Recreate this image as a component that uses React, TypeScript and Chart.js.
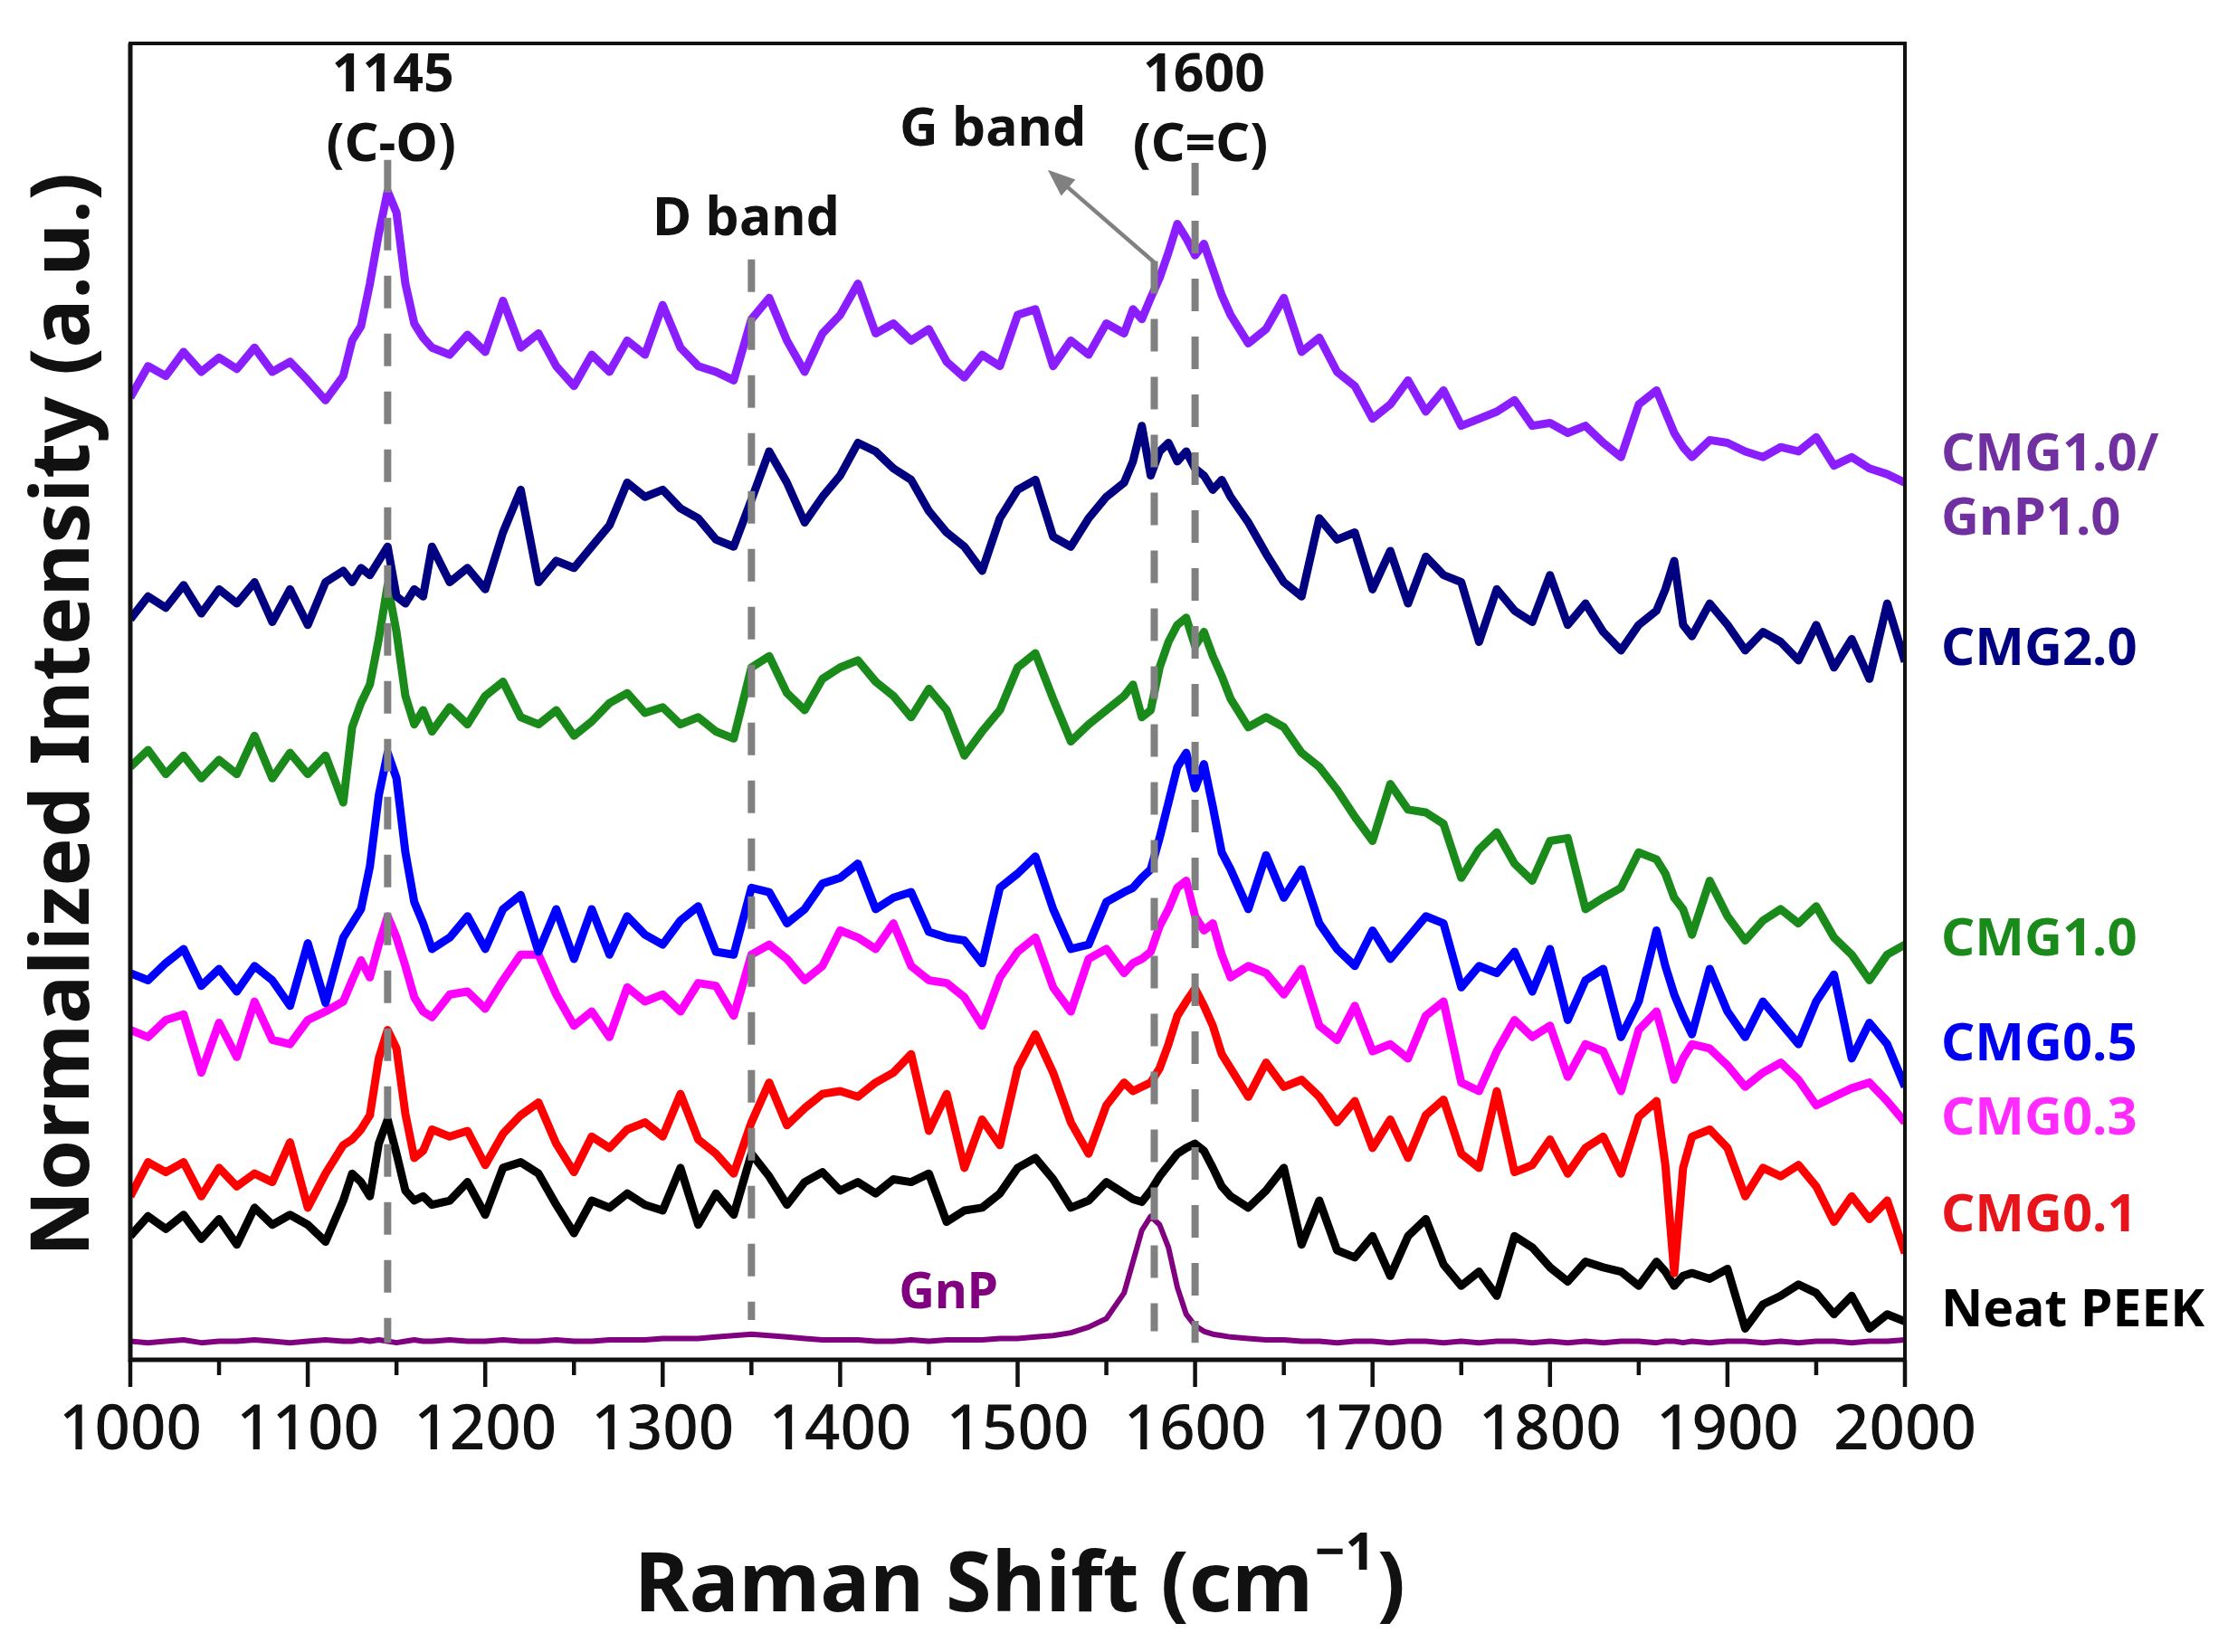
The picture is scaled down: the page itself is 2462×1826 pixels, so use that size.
import React, { useEffect, useRef } from 'react';
import { Chart, registerables } from 'chart.js';

Chart.register(...registerables);

// Raman shift (cm^-1) sample positions shared by every spectrum
const wavenumbers = [
  1000, 1010, 1020, 1030, 1040, 1050, 1060, 1070, 1080, 1090,
  1100, 1110, 1120, 1125, 1130, 1135, 1140, 1145, 1150, 1155,
  1160, 1165, 1170, 1180, 1190, 1200, 1210, 1220, 1230, 1240,
  1250, 1260, 1270, 1280, 1290, 1300, 1310, 1320, 1330, 1340,
  1350, 1360, 1370, 1380, 1390, 1400, 1410, 1420, 1430, 1440,
  1450, 1460, 1470, 1480, 1490, 1500, 1510, 1520, 1530, 1540,
  1550, 1560, 1565, 1570, 1575, 1580, 1585, 1590, 1595, 1600,
  1605, 1610, 1615, 1620, 1630, 1640, 1650, 1660, 1670, 1680,
  1690, 1700, 1710, 1720, 1730, 1740, 1750, 1760, 1770, 1780,
  1790, 1800, 1810, 1820, 1830, 1840, 1850, 1860, 1865, 1870,
  1875, 1880, 1890, 1900, 1910, 1920, 1930, 1940, 1950, 1960,
  1970, 1980, 1990, 2000,
];

// Normalized intensities (a.u., stacked with offsets as in the figure)
const cmg10Gnp10 = [
  672, 694, 687, 704, 690, 700, 692, 707, 690, 697,
  684, 670, 687, 712, 722, 752, 787, 817, 802, 752,
  724, 714, 707, 702, 716, 704, 740, 707, 717, 694,
  680, 702, 690, 712, 702, 737, 707, 694, 690, 684,
  727, 742, 712, 690, 717, 730, 752, 717, 724, 712,
  720, 697, 686, 702, 694, 730, 734, 694, 712, 702,
  724, 717, 734, 727, 742, 756, 774, 794, 784, 772,
  780, 762, 744, 730, 710, 720, 742, 704, 714, 690,
  680, 657, 667, 684, 662, 677, 652, 657, 662, 670,
  652, 654, 647, 652, 640, 630, 667, 677, 662, 647,
  637, 630, 642, 640, 634, 630, 637, 634, 644, 624,
  630, 622, 618, 612,
];

const cmg20 = [
  516, 532, 524, 540, 520, 537, 527, 542, 514, 537,
  512, 542, 550, 542, 552, 547, 557, 567, 532, 527,
  537, 532, 567, 542, 552, 537, 577, 607, 542, 557,
  552, 567, 582, 612, 602, 607, 594, 587, 572, 567,
  600, 634, 612, 584, 602, 617, 640, 634, 622, 614,
  592, 577, 567, 550, 587, 607, 614, 574, 567, 587,
  602, 612, 627, 652, 617, 634, 640, 627, 634, 622,
  617, 607, 614, 602, 584, 562, 542, 532, 587, 572,
  577, 537, 564, 527, 560, 547, 542, 500, 537, 522,
  514, 547, 512, 527, 507, 494, 512, 522, 537, 557,
  512, 504, 527, 512, 494, 507, 500, 487, 512, 482,
  502, 474, 527, 486,
];

const cmg10 = [
  412, 424, 407, 420, 404, 417, 407, 434, 404, 422,
  407, 420, 387, 440, 457, 470, 502, 540, 507, 462,
  442, 452, 437, 454, 442, 462, 472, 447, 442, 452,
  434, 444, 457, 464, 450, 454, 442, 447, 437, 432,
  482, 490, 464, 452, 474, 482, 487, 472, 462, 447,
  467, 452, 420, 437, 452, 482, 492, 460, 430, 442,
  452, 462, 470, 447, 452, 482, 500, 512, 517, 497,
  507, 490, 476, 460, 440, 447, 440, 422, 412, 396,
  377, 360, 400, 382, 380, 372, 334, 354, 366, 344,
  332, 360, 362, 312, 320, 327, 352, 347, 337, 320,
  312, 294, 332, 307, 290, 304, 312, 302, 314, 292,
  280, 262, 280, 287,
];

const cmg05 = [
  267, 262, 274, 284, 258, 270, 254, 272, 262, 244,
  288, 246, 292, 302, 312, 342, 392, 422, 404, 352,
  317, 302, 284, 292, 307, 284, 312, 322, 282, 312,
  277, 312, 280, 307, 294, 287, 304, 314, 282, 280,
  327, 324, 302, 312, 330, 334, 344, 312, 320, 324,
  296, 292, 290, 274, 327, 337, 349, 312, 284, 287,
  317, 324, 327, 334, 340, 362, 387, 412, 422, 397,
  414, 384, 352, 340, 312, 350, 320, 340, 302, 284,
  272, 297, 277, 292, 307, 302, 257, 272, 267, 282,
  254, 284, 234, 262, 270, 222, 247, 297, 272, 252,
  237, 224, 270, 240, 222, 247, 232, 217, 247, 266,
  207, 232, 217, 187,
];

const cmg03 = [
  227, 222, 234, 238, 197, 232, 208, 247, 220, 217,
  234, 240, 247, 262, 276, 264, 287, 307, 292, 272,
  250, 240, 236, 252, 254, 242, 262, 280, 280, 252,
  230, 240, 222, 257, 247, 252, 240, 260, 258, 237,
  280, 287, 277, 262, 272, 297, 292, 284, 302, 272,
  262, 260, 250, 230, 264, 282, 292, 257, 240, 277,
  284, 267, 274, 277, 282, 300, 312, 327, 332, 307,
  297, 302, 280, 264, 272, 267, 252, 270, 230, 220,
  244, 212, 217, 207, 237, 247, 190, 184, 212, 234,
  222, 230, 194, 217, 212, 184, 227, 240, 217, 192,
  207, 217, 214, 202, 187, 197, 204, 192, 174, 180,
  186, 190, 177, 162,
];

const cmg01 = [
  110, 134, 127, 134, 110, 130, 117, 126, 120, 148,
  102, 126, 146, 150, 157, 167, 207, 227, 214, 168,
  137, 142, 157, 152, 156, 132, 154, 167, 176, 147,
  127, 152, 144, 157, 162, 152, 182, 150, 140, 126,
  162, 190, 160, 172, 182, 184, 180, 190, 197, 210,
  156, 182, 130, 164, 146, 200, 224, 197, 162, 140,
  174, 190, 184, 187, 190, 200, 217, 237, 247, 256,
  244, 230, 210, 200, 180, 204, 187, 192, 180, 162,
  177, 144, 164, 137, 167, 178, 140, 130, 184, 127,
  132, 150, 126, 144, 152, 126, 166, 177, 132, 56,
  130, 152, 157, 144, 110, 130, 124, 132, 117, 92,
  110, 94, 107, 70,
];

const neatPeek = [
  82, 96, 87, 97, 80, 94, 76, 102, 90, 97,
  90, 78, 107, 126, 120, 110, 147, 164, 140, 114,
  107, 110, 104, 107, 120, 97, 130, 134, 126, 104,
  84, 107, 102, 112, 104, 100, 130, 90, 112, 97,
  140, 124, 104, 120, 127, 114, 120, 112, 122, 120,
  126, 92, 100, 102, 112, 130, 137, 122, 102, 107,
  120, 112, 108, 106, 114, 124, 132, 140, 144, 147,
  142, 130, 117, 110, 102, 114, 130, 76, 107, 72,
  67, 82, 54, 82, 94, 62, 47, 57, 40, 82,
  74, 60, 50, 64, 60, 57, 47, 64, 57, 47,
  54, 56, 52, 59, 17, 34, 40, 48, 42, 27,
  40, 17, 27, 22,
];

const gnp = [
  8, 7, 8, 9, 7, 8, 8, 9, 8, 7,
  8, 9, 8, 8, 9, 8, 9, 8, 7, 8,
  9, 8, 8, 9, 8, 8, 9, 8, 8, 9,
  8, 8, 9, 9, 9, 10, 10, 10, 11, 12,
  13, 12, 11, 10, 9, 9, 9, 8, 8, 9,
  8, 9, 9, 9, 10, 10, 11, 12, 14, 18,
  24, 42, 64, 86, 96, 90, 74, 46, 27, 19,
  15, 13, 12, 11, 10, 9, 9, 8, 8, 7,
  8, 8, 7, 8, 8, 7, 8, 7, 8, 8,
  7, 8, 7, 8, 7, 8, 8, 7, 8, 8,
  7, 8, 7, 8, 8, 7, 8, 7, 8, 8,
  7, 8, 8, 9,
];

const xTickValues = [1000, 1100, 1200, 1300, 1400, 1500, 1600, 1700, 1800, 1900, 2000];
const xMinorTickValues = [1050, 1150, 1250, 1350, 1450, 1550, 1650, 1750, 1850, 1950];

const seriesNames = ['CMG1.0/GnP1.0', 'CMG2.0', 'CMG1.0', 'CMG0.5', 'CMG0.3', 'CMG0.1', 'Neat PEEK', 'GnP'];
const seriesValues = [cmg10Gnp10, cmg20, cmg10, cmg05, cmg03, cmg01, neatPeek, gnp];
const seriesColors = ['#8B1EFF', '#000080', '#1A8A1A', '#0000FF', '#FF00FF', '#FF0000', '#000000', '#800080'];

// band positions (cm^-1) marked with dashed lines
const bandPositions = [1145, 1350, 1577, 1600];

const FONT = '"Noto Sans", "DejaVu Sans", sans-serif';

const decorPlugin = {
  id: 'decor',
  afterDatasetsDraw(chart: any) {
    const { ctx, scales } = chart;
    const xs = (v: number) => scales.x.getPixelForValue(v);
    const ys = (v: number) => scales.y.getPixelForValue(v);
    const extents = [
      [839, 7],
      [769, 23],
      [768, 15],
      [837, 7],
    ];
    ctx.save();
    ctx.strokeStyle = '#808080';
    ctx.lineWidth = 8;
    ctx.setLineDash([36, 28]);
    bandPositions.forEach((b, i) => {
      ctx.beginPath();
      ctx.moveTo(xs(b), ys(extents[i][0]));
      ctx.lineTo(xs(b), ys(extents[i][1]));
      ctx.stroke();
    });
    ctx.setLineDash([]);
    // arrow pointing from G band line toward label
    const x0 = xs(1577), y0 = ys(767);
    const x1 = xs(1517), y1 = ys(832);
    const ang = Math.atan2(y1 - y0, x1 - x0);
    const head = 30;
    const half = 12;
    ctx.lineWidth = 4.5;
    ctx.beginPath();
    ctx.moveTo(x0, y0);
    ctx.lineTo(x1 - Math.cos(ang) * head * 0.8, y1 - Math.sin(ang) * head * 0.8);
    ctx.stroke();
    ctx.fillStyle = '#808080';
    ctx.beginPath();
    ctx.moveTo(x1, y1);
    ctx.lineTo(x1 - head * Math.cos(ang) + half * Math.sin(ang), y1 - head * Math.sin(ang) - half * Math.cos(ang));
    ctx.lineTo(x1 - head * Math.cos(ang) - half * Math.sin(ang), y1 - head * Math.sin(ang) + half * Math.cos(ang));
    ctx.closePath();
    ctx.fill();
    ctx.restore();
  },
  afterDraw(chart: any) {
    const { ctx, chartArea: a, scales } = chart;
    const xs = (v: number) => scales.x.getPixelForValue(v);
    const ys = (v: number) => scales.y.getPixelForValue(v);
    ctx.save();
    // frame
    ctx.strokeStyle = '#111';
    ctx.lineWidth = 4;
    ctx.strokeRect(a.left, a.top, a.right - a.left, a.bottom - a.top);
    ctx.lineWidth = 5;
    ctx.beginPath();
    ctx.moveTo(a.left, a.top);
    ctx.lineTo(a.left, a.bottom);
    ctx.lineTo(a.right, a.bottom);
    ctx.stroke();
    // ticks
    ctx.lineWidth = 4.5;
    xTickValues.forEach((v) => {
      ctx.beginPath();
      ctx.moveTo(xs(v), a.bottom);
      ctx.lineTo(xs(v), a.bottom + 30);
      ctx.stroke();
    });
    xMinorTickValues.forEach((v) => {
      ctx.beginPath();
      ctx.moveTo(xs(v), a.bottom);
      ctx.lineTo(xs(v), a.bottom + 17);
      ctx.stroke();
    });

    const txt = (s: string, x: number, y: number, size: number, color: string, align: CanvasTextAlign = 'center', weight = 'bold') => {
      ctx.font = `${weight} ${size}px ${FONT}`;
      ctx.fillStyle = color;
      ctx.textAlign = align;
      ctx.textBaseline = 'middle';
      ctx.fillText(s, x, y);
    };

    // band annotations
    txt('1145', xs(1148), ys(898), 59, '#111');
    txt('(C-O)', xs(1147), ys(849), 59, '#111');
    txt('D band', xs(1347), ys(797), 59, '#111');
    txt('G band', xs(1486), ys(860), 59, '#111');
    txt('1600', xs(1605), ys(898), 59, '#111');
    txt('(C=C)', xs(1603), ys(849), 59, '#111');

    // series labels
    const lx = a.right + 40;
    txt('CMG1.0/', lx, ys(631), 58, '#7030A0', 'left');
    txt('GnP1.0', lx, ys(586), 58, '#7030A0', 'left');
    txt(seriesNames[1], lx, ys(494), 58, '#000080', 'left');
    txt(seriesNames[2], lx, ys(290), 58, '#1A8A1A', 'left');
    txt(seriesNames[3], lx, ys(216), 58, '#0000F0', 'left');
    txt(seriesNames[4], lx, ys(164), 58, '#FF2BFF', 'left');
    txt(seriesNames[5], lx, ys(96), 58, '#E8141C', 'left');
    txt(seriesNames[6], lx, ys(29), 57, '#000000', 'left');
    txt(seriesNames[7], xs(1461), ys(41), 55, '#800080');

    // y axis title
    ctx.save();
    ctx.translate(72, 790);
    ctx.rotate(-Math.PI / 2);
    txt('Normalized Intensity (a.u.)', 0, 0, 90, '#111');
    ctx.restore();

    // x axis title with superscript
    const base = 1781;
    const big = `bold 92px ${FONT}`;
    const small = `bold 58px ${FONT}`;
    const p1 = 'Raman Shift (cm';
    const p2 = '\u22121';
    const p3 = ')';
    ctx.font = big;
    const w1 = ctx.measureText(p1).width;
    const w3 = ctx.measureText(p3).width;
    ctx.font = small;
    const w2 = ctx.measureText(p2).width;
    const total = w1 + w2 + w3 + 4;
    let cx = 1127 - total / 2;
    ctx.fillStyle = '#111';
    ctx.textAlign = 'left';
    ctx.textBaseline = 'alphabetic';
    ctx.font = big;
    ctx.fillText(p1, cx, base);
    cx += w1 + 2;
    ctx.font = small;
    ctx.fillText(p2, cx, base - 46);
    cx += w2 + 2;
    ctx.font = big;
    ctx.fillText(p3, cx, base);
    ctx.restore();
  },
};

export default function App() {
  const ref = useRef<HTMLCanvasElement | null>(null);
  useEffect(() => {
    if (!ref.current) return;
    const chart = new Chart(ref.current, {
      type: 'line',
      data: {
        datasets: seriesNames.map((name, i) => ({
          label: name,
          data: wavenumbers.map((x, j) => ({ x, y: seriesValues[i][j] })),
          borderColor: seriesColors[i],
          backgroundColor: seriesColors[i],
          borderWidth: i === 7 ? 6 : 9,
          borderJoinStyle: 'round',
          pointRadius: 0,
          tension: 0,
          fill: false,
        })),
      },
      options: {
        animation: false,
        responsive: false,
        devicePixelRatio: 1,
        layout: { padding: { left: 0, right: 357, top: 48, bottom: 0 } },
        plugins: { legend: { display: false }, tooltip: { enabled: false } },
        scales: {
          x: {
            type: 'linear',
            min: 1000,
            max: 2000,
            grid: { display: false, drawTicks: false },
            border: { display: false },
            afterBuildTicks: (s: any) => {
              s.ticks = xTickValues.map((v) => ({ value: v }));
            },
            ticks: {
              autoSkip: false,
              maxRotation: 0,
              padding: 38,
              color: '#111',
              font: { family: FONT, size: 69, weight: '500' },
              callback: (v: any) => String(v),
            },
            afterFit: (s: any) => {
              s.height = 1826 - 1503;
            },
          },
          y: {
            type: 'linear',
            min: -5,
            max: 921,
            grid: { display: false, drawTicks: false },
            border: { display: false },
            ticks: { display: false },
            afterFit: (s: any) => {
              s.width = 144;
            },
          },
        },
      },
      plugins: [decorPlugin],
    } as any);
    return () => chart.destroy();
  }, []);
  return (
    <div style={{ position: 'absolute', left: 0, top: 0, width: 2462, height: 1826, background: '#fff' }}>
      <canvas ref={ref} width={2462} height={1826} style={{ display: 'block', width: 2462, height: 1826 }} />
    </div>
  );
}
